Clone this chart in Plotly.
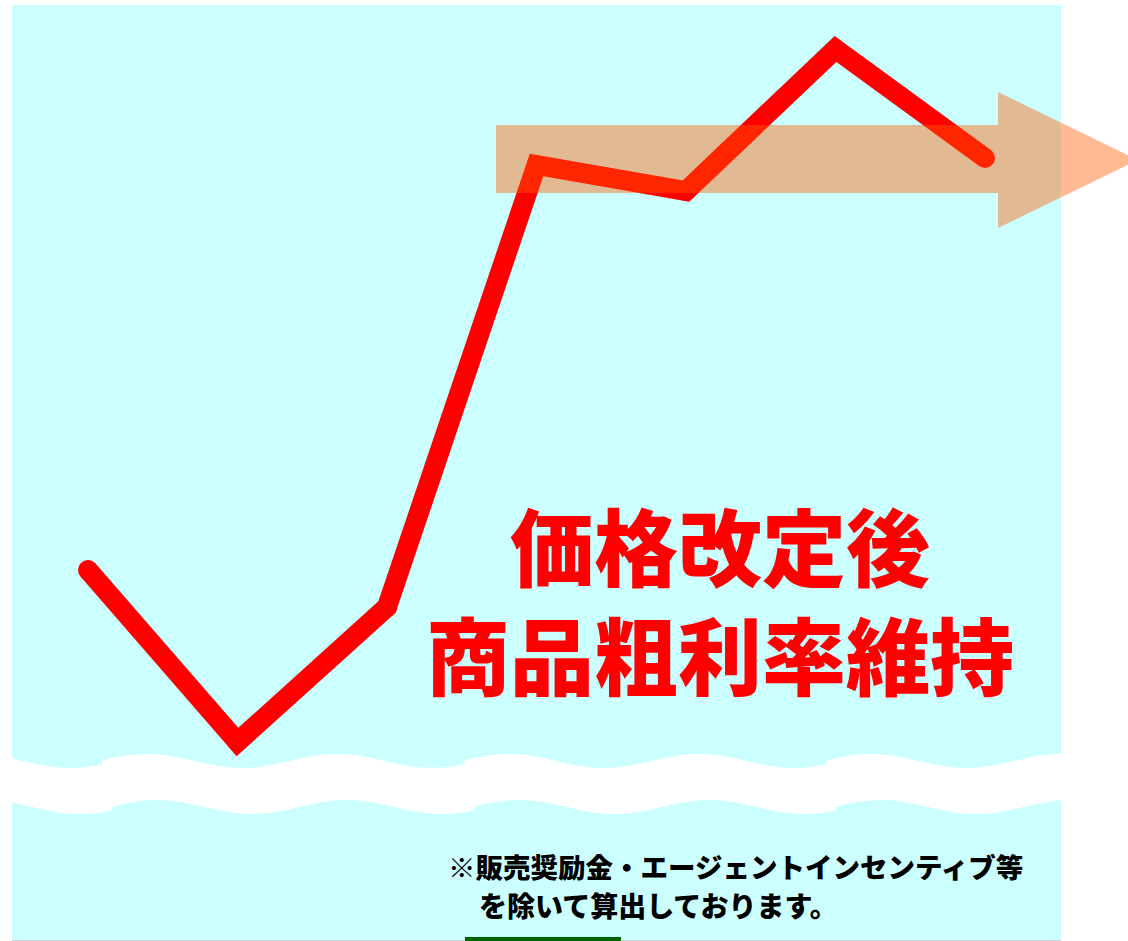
import numpy as np
import plotly.graph_objects as go

# ---- data (arbitrary index units) ----
periods = [1, 2, 3, 4, 5, 6, 7]
margin_index = [37.1, 19.9, 33.4, 77.6, 75.0, 89.2, 78.3]

headline_lines = ["価格改定後", "商品粗利率維持"]
note_lines = ["※販売奨励金・エージェントインセンティブ等", "を除いて算出しております。"]

W, H = 1128, 941


def px(x):
    return x / W


def py(y):
    return 1 - y / H


fig = go.Figure()

fig.add_trace(go.Scatter(
    x=periods, y=margin_index, mode="lines+markers",
    line=dict(color="#FF0000", width=20),
    marker=dict(color="#FF0000", size=20, line=dict(width=0)),
    hoverinfo="skip",
))

shapes = []
# cyan panel
shapes.append(dict(type="rect", xref="paper", yref="paper",
                   x0=px(12), x1=px(1061), y0=py(940), y1=py(5),
                   fillcolor="#CCFFFF", line=dict(width=0), layer="below"))


# white wavy break band (decoration)
def wave_edge(xs, dy, dx):
    ys = []
    for x in xs:
        xx = x - dx
        k = np.floor((xx - 103) / 362)
        s = 103 + 362 * k
        off = xx - s
        ys.append(761 + dy - 7 * np.cos(2 * np.pi * (off - 44) / 190))
    return ys


xs = np.arange(12, 1062, 1.0)
top = wave_edge(xs, 0, 0)
bot = wave_edge(xs, 46, 10)
path = "M " + " L ".join(f"{px(x):.5f},{py(y):.5f}" for x, y in zip(xs, top))
path += " L " + " L ".join(f"{px(x):.5f},{py(y):.5f}" for x, y in zip(xs[::-1], bot[::-1])) + " Z"
shapes.append(dict(type="path", xref="paper", yref="paper", path=path,
                   fillcolor="#FFFFFF", line=dict(width=0), layer="below"))

# bottom gray rule and green tab
shapes.append(dict(type="line", xref="paper", yref="paper",
                   x0=px(12), x1=px(1061), y0=py(940.5), y1=py(940.5),
                   line=dict(color="#D0D0D0", width=1), layer="below"))
shapes.append(dict(type="rect", xref="paper", yref="paper",
                   x0=px(465), x1=px(621), y0=py(941), y1=py(937),
                   fillcolor="#006400", line=dict(width=0), layer="above"))

# translucent arrow
arrow_pts = [(496, 125), (998, 125), (998, 92), (1138, 160), (998, 228), (998, 193), (496, 193)]
apath = "M " + " L ".join(f"{px(x):.5f},{py(y):.5f}" for x, y in arrow_pts) + " Z"
shapes.append(dict(type="path", xref="paper", yref="paper", path=apath,
                   fillcolor="rgba(255,90,0,0.42)", line=dict(width=0), layer="above"))

annotations = [
    dict(text="<br>".join(headline_lines), x=px(720), y=py(598), xref="paper", yref="paper",
         xanchor="center", yanchor="middle", align="center", showarrow=False,
         font=dict(family="Noto Sans CJK JP", size=84, color="#FF0000", weight=900)),
    dict(text=note_lines[0], x=px(446), y=py(866), xref="paper", yref="paper",
         xanchor="left", yanchor="middle", showarrow=False,
         font=dict(family="Noto Sans CJK JP", size=27.5, color="#000000", weight=900)),
    dict(text=note_lines[1], x=px(477), y=py(905), xref="paper", yref="paper",
         xanchor="left", yanchor="middle", showarrow=False,
         font=dict(family="Noto Sans CJK JP", size=28, color="#000000", weight=900)),
]

fig.update_layout(
    width=W, height=H,
    margin=dict(l=0, r=0, t=0, b=0, pad=0),
    paper_bgcolor="#FFFFFF", plot_bgcolor="rgba(0,0,0,0)",
    showlegend=False,
    xaxis=dict(visible=False, range=[0.4114, 7.9565], fixedrange=True),
    yaxis=dict(visible=False, range=[0, 94.1], fixedrange=True),
    shapes=shapes, annotations=annotations,
)

fig.write_html("out.html", config={"displayModeBar": False},
               post_script="document.body.style.margin='0';")
